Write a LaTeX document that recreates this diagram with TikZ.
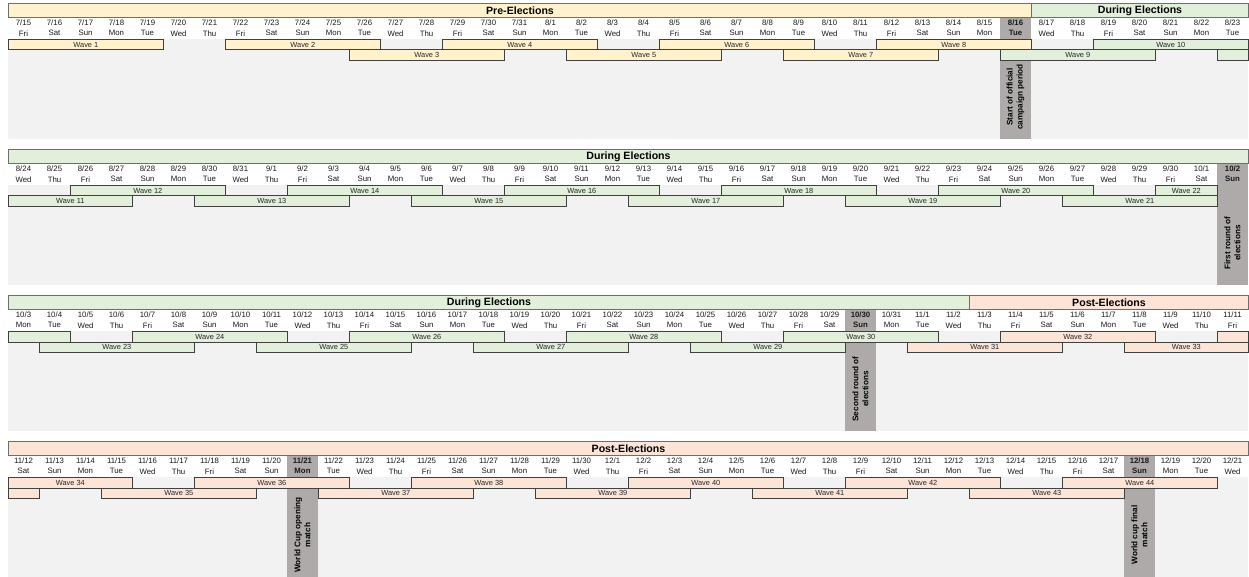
\documentclass[tikz,border=0pt]{standalone}
\usepackage{fontspec}
\setmainfont{Liberation Sans}
\definecolor{pre}{HTML}{FFF2CC}
\definecolor{dur}{HTML}{E2EFDA}
\definecolor{post}{HTML}{FCE4D6}
\definecolor{evg}{HTML}{AEAAAA}
\definecolor{bgg}{HTML}{F2F2F2}
\definecolor{bdr}{HTML}{404040}
\definecolor{hbdr}{HTML}{6E6E6E}
\newcommand\dayname[1]{\ifcase#1 Fri\or Sat\or Sun\or Mon\or Tue\or Wed\or Thu\fi}
% name, band, c1, c2, row, color, label
\newcommand\wv[7]{\node[wbox,fill=#6,minimum width={31*((#4)-(#3)+1)}] (#1) at ({8+31*(#3)},{3+146*(#2)+36+10.5*((#5)-1)}) {#7};}
% name, band, c1, c2, color, label
\newcommand\hd[6]{\node[hbox,fill=#5,minimum width={31*((#4)-(#3)+1)}] (#1) at ({8+31*(#3)},{3+146*(#2)}) {#6};}
\newcommand\evtext[4]{\node[evtxt] (#1) at ({8+31*(#3)+15.5},{3+146*(#2)+94}) {#4};}
\newcommand\evcol[2]{\fill[evg] ({8+31*(#2)},{3+146*(#1)+14}) rectangle ++(31,122);}
\newcommand\dates[2]{%
  \foreach \mo/\da [count=\k from 0] in {#2} {
    \pgfmathtruncatemacro\g{40*#1+\k}
    \pgfmathtruncatemacro\w{mod(\g,7)}
    \pgfmathtruncatemacro\isev{(\g==32)||(\g==79)||(\g==107)||(\g==129)||(\g==156)}
    \ifnum\isev=1 \def\ff{\bfseries}\else\def\ff{}\fi
    \node[dtxt] (dt\g) at ({8+31*\k+15.5},{3+146*#1+19.7}) {\ff\mo/\da};
    \node[dtxt] (dy\g) at ({8+31*\k+15.5},{3+146*#1+30.3}) {\ff\dayname{\w}};
  }}
\tikzset{
  wbox/.style={draw=bdr, line width=0.7pt, anchor=north west, minimum height=10.5pt, inner sep=0pt, font=\fontsize{7.4}{8}\selectfont, text=black!85},
  hbox/.style={draw=hbdr, line width=1pt, anchor=north west, minimum height=14pt, inner sep=0pt, font=\fontsize{10.6}{12}\selectfont\bfseries},
  evtxt/.style={rotate=90, align=center, inner sep=0pt, font=\fontsize{8.2}{10}\selectfont\bfseries},
  dtxt/.style={inner sep=0pt, font=\fontsize{7.8}{9}\selectfont, text=black!90}
}
\begin{document}
\begin{tikzpicture}[x=1pt,y=-1pt]
\useasboundingbox[fill=white] (0,0) rectangle (1249,577);
% backgrounds
\foreach \b in {0,1,2,3}{\fill[bgg] (8,{3+146*\b+36}) rectangle (1248,{3+146*\b+136});}
% event columns
\evcol{0}{32}
\evcol{1}{39}
\evcol{2}{27}
\evcol{3}{9}
\evcol{3}{36}
% headers
\hd{h1}{0}{0}{32}{pre}{Pre-Elections}
\hd{h2}{0}{33}{39}{dur}{During Elections}
\hd{h3}{1}{0}{39}{dur}{During Elections}
\hd{h4}{2}{0}{30}{dur}{During Elections}
\hd{h5}{2}{31}{39}{post}{Post-Elections}
\hd{h6}{3}{0}{39}{post}{Post-Elections}
% dates
\dates{0}{7/15,7/16,7/17,7/18,7/19,7/20,7/21,7/22,7/23,7/24,7/25,7/26,7/27,7/28,7/29,7/30,7/31,8/1,8/2,8/3,8/4,8/5,8/6,8/7,8/8,8/9,8/10,8/11,8/12,8/13,8/14,8/15,8/16,8/17,8/18,8/19,8/20,8/21,8/22,8/23}
\dates{1}{8/24,8/25,8/26,8/27,8/28,8/29,8/30,8/31,9/1,9/2,9/3,9/4,9/5,9/6,9/7,9/8,9/9,9/10,9/11,9/12,9/13,9/14,9/15,9/16,9/17,9/18,9/19,9/20,9/21,9/22,9/23,9/24,9/25,9/26,9/27,9/28,9/29,9/30,10/1,10/2}
\dates{2}{10/3,10/4,10/5,10/6,10/7,10/8,10/9,10/10,10/11,10/12,10/13,10/14,10/15,10/16,10/17,10/18,10/19,10/20,10/21,10/22,10/23,10/24,10/25,10/26,10/27,10/28,10/29,10/30,10/31,11/1,11/2,11/3,11/4,11/5,11/6,11/7,11/8,11/9,11/10,11/11}
\dates{3}{11/12,11/13,11/14,11/15,11/16,11/17,11/18,11/19,11/20,11/21,11/22,11/23,11/24,11/25,11/26,11/27,11/28,11/29,11/30,12/1,12/2,12/3,12/4,12/5,12/6,12/7,12/8,12/9,12/10,12/11,12/12,12/13,12/14,12/15,12/16,12/17,12/18,12/19,12/20,12/21}
% waves band 1
\wv{w1}{0}{0}{4}{1}{pre}{Wave 1}
\wv{w2}{0}{7}{11}{1}{pre}{Wave 2}
\wv{w3}{0}{11}{15}{2}{pre}{Wave 3}
\wv{w4}{0}{14}{18}{1}{pre}{Wave 4}
\wv{w5}{0}{18}{22}{2}{pre}{Wave 5}
\wv{w6}{0}{21}{25}{1}{pre}{Wave 6}
\wv{w7}{0}{25}{29}{2}{pre}{Wave 7}
\wv{w8}{0}{28}{32}{1}{pre}{Wave 8}
\wv{w9}{0}{32}{36}{2}{dur}{Wave 9}
\wv{w10}{0}{35}{39}{1}{dur}{Wave 10}
\wv{w11a}{0}{39}{39}{2}{dur}{}
% waves band 2
\wv{w11b}{1}{0}{3}{2}{dur}{Wave 11}
\wv{w12}{1}{2}{6}{1}{dur}{Wave 12}
\wv{w13}{1}{6}{10}{2}{dur}{Wave 13}
\wv{w14}{1}{9}{13}{1}{dur}{Wave 14}
\wv{w15}{1}{13}{17}{2}{dur}{Wave 15}
\wv{w16}{1}{16}{20}{1}{dur}{Wave 16}
\wv{w17}{1}{20}{24}{2}{dur}{Wave 17}
\wv{w18}{1}{23}{27}{1}{dur}{Wave 18}
\wv{w19}{1}{27}{31}{2}{dur}{Wave 19}
\wv{w20}{1}{30}{34}{1}{dur}{Wave 20}
\wv{w21}{1}{34}{38}{2}{dur}{Wave 21}
\wv{w22a}{1}{37}{38}{1}{dur}{Wave 22}
% waves band 3
\wv{w22b}{2}{0}{1}{1}{dur}{}
\wv{w23}{2}{1}{5}{2}{dur}{Wave 23}
\wv{w24}{2}{4}{8}{1}{dur}{Wave 24}
\wv{w25}{2}{8}{12}{2}{dur}{Wave 25}
\wv{w26}{2}{11}{15}{1}{dur}{Wave 26}
\wv{w27}{2}{15}{19}{2}{dur}{Wave 27}
\wv{w28}{2}{18}{22}{1}{dur}{Wave 28}
\wv{w29}{2}{22}{26}{2}{dur}{Wave 29}
\wv{w30}{2}{25}{29}{1}{dur}{Wave 30}
\wv{w31}{2}{29}{33}{2}{post}{Wave 31}
\wv{w32}{2}{32}{36}{1}{post}{Wave 32}
\wv{w33a}{2}{36}{39}{2}{post}{Wave 33}
\wv{w34a}{2}{39}{39}{1}{post}{}
% waves band 4
\wv{w33b}{3}{0}{0}{2}{post}{}
\wv{w34b}{3}{0}{3}{1}{post}{Wave 34}
\wv{w35}{3}{3}{7}{2}{post}{Wave 35}
\wv{w36}{3}{6}{10}{1}{post}{Wave 36}
\wv{w37}{3}{10}{14}{2}{post}{Wave 37}
\wv{w38}{3}{13}{17}{1}{post}{Wave 38}
\wv{w39}{3}{17}{21}{2}{post}{Wave 39}
\wv{w40}{3}{20}{24}{1}{post}{Wave 40}
\wv{w41}{3}{24}{28}{2}{post}{Wave 41}
\wv{w42}{3}{27}{31}{1}{post}{Wave 42}
\wv{w43}{3}{31}{35}{2}{post}{Wave 43}
\wv{w44}{3}{34}{38}{1}{post}{Wave 44}
% event labels
\evtext{e1}{0}{32}{Start of official\\campaign period}
\evtext{e2}{1}{39}{First round of\\elections}
\evtext{e3}{2}{27}{Second round of\\elections}
\evtext{e4}{3}{9}{World Cup opening\\match}
\evtext{e5}{3}{36}{World cup final\\match}
\end{tikzpicture}
\end{document}
